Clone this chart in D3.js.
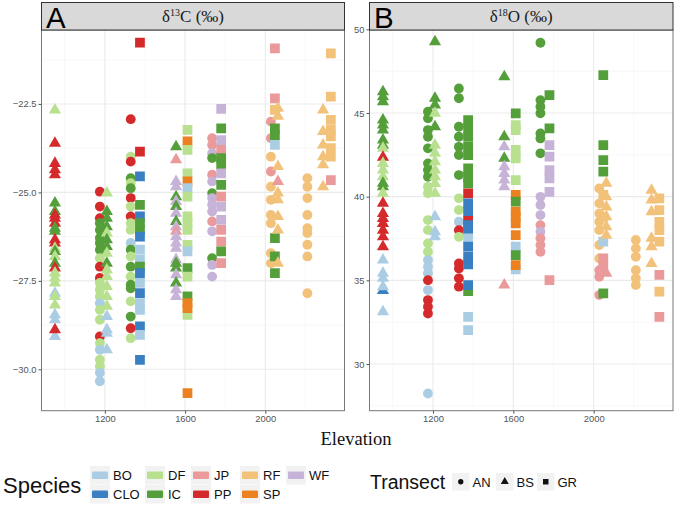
<!DOCTYPE html>
<html><head><meta charset="utf-8">
<script src="https://cdn.jsdelivr.net/npm/d3@7"></script>
<style>body{margin:0;background:#fff} svg{display:block}</style>
</head><body><svg id="c" width="677" height="509"></svg>
<script>
// ---------- data ----------
const species = ["BO","CLO","DF","IC","JP","PP","RF","SP","WF"];
const speciesColors = ["#abcde4","#3a7fc1","#b8e08f","#559f3b","#eb9a9c","#d42a2c","#f3c27a","#ec8122","#c7b3d8"];
const transectLevels = ["AN","BS","GR"];
// plotted (dodged) elevation of each column and its transect
const elevations = [951,1175,1210,1329,1375,1555,1612,1735,1780,2028,2048,2063,2210,2288,2327];
const columnTransect = ["BS","AN","BS","AN","GR","BS","GR","AN","GR","AN","GR","BS","AN","BS","GR"];
const elevationTicks = [1200,1600,2000];
const carbonTicks = [-30,-27.5,-25,-22.5];
const oxygenTicks = [30,35,40,45,50];

const carbonValues = [
 [["DF",-22.67],["PP",-23.61],["PP",-24.18],["PP",-24.36],["PP",-24.5],["IC",-25.3],["IC",-25.54],["PP",-25.64],["PP",-25.73],["PP",-25.87],["IC",-26.01],["IC",-26.1],["PP",-26.34],["PP",-26.43],["DF",-26.58],["IC",-26.67],["DF",-26.81],["IC",-27.0],["PP",-27.14],["DF",-27.28],["DF",-27.42],["DF",-27.56],["BO",-27.85],["DF",-27.94],["DF",-28.18],["BO",-28.46],["BO",-28.6],["BO",-29.07],["PP",-28.88]],
 [["PP",-24.98],["PP",-25.4],["PP",-25.73],["IC",-25.87],["IC",-26.06],["IC",-26.29],["IC",-26.43],["IC",-26.62],["DF",-26.86],["PP",-27.1],["PP",-27.42],["DF",-27.56],["DF",-27.75],["DF",-27.94],["BO",-28.13],["DF",-28.32],["DF",-28.6],["PP",-29.07],["DF",-29.26],["BO",-29.45],["DF",-29.73],["DF",-29.92],["BO",-30.1],["BO",-30.34]],
 [["DF",-25.02],["IC",-25.54],["IC",-25.73],["IC",-25.97],["DF",-26.15],["IC",-26.34],["IC",-26.53],["DF",-26.72],["IC",-27.0],["DF",-27.19],["DF",-27.38],["DF",-27.66],["DF",-27.94],["DF",-28.22],["BO",-28.51],["BO",-28.88],["BO",-28.98],["BO",-29.45]],
 [["PP",-22.93],["DF",-23.99],["PP",-24.13],["IC",-24.6],["DF",-24.74],["IC",-24.88],["PP",-25.16],["DF",-25.4],["PP",-25.68],["DF",-25.87],["DF",-26.06],["BO",-26.43],["IC",-26.62],["DF",-26.81],["IC",-27.1],["DF",-27.38],["IC",-27.61],["IC",-27.71],["DF",-28.08],["IC",-28.51],["PP",-28.84],["DF",-29.12]],
 [["PP",-20.77],["PP",-23.85],["CLO",-24.55],["IC",-25.35],["CLO",-25.68],["IC",-25.87],["IC",-26.06],["CLO",-26.25],["BO",-26.62],["BO",-26.9],["IC",-27.1],["CLO",-27.28],["BO",-27.56],["CLO",-27.85],["BO",-28.13],["BO",-28.32],["CLO",-28.79],["BO",-29.03],["CLO",-29.73]],
 [["IC",-23.71],["JP",-24.08],["WF",-24.69],["WF",-24.84],["IC",-25.12],["WF",-25.26],["IC",-25.4],["WF",-25.59],["IC",-25.82],["WF",-25.97],["JP",-26.1],["WF",-26.25],["WF",-26.43],["WF",-26.58],["WF",-26.9],["IC",-27.0],["IC",-27.14],["WF",-27.33],["IC",-27.56],["WF",-27.75],["WF",-27.94]],
 [["DF",-23.23],["SP",-23.56],["DF",-23.8],["DF",-24.46],["SP",-24.69],["BO",-24.88],["DF",-25.12],["DF",-25.68],["DF",-25.87],["DF",-26.06],["DF",-26.48],["BO",-26.67],["IC",-27.14],["DF",-27.38],["DF",-28.46],["IC",-27.94],["SP",-28.13],["SP",-28.27],["SP",-30.67]],
 [["JP",-23.47],["JP",-23.66],["WF",-23.89],["IC",-24.03],["JP",-24.5],["WF",-24.69],["IC",-25.02],["WF",-25.16],["WF",-25.35],["WF",-25.54],["JP",-25.82],["WF",-26.1],["IC",-26.86],["WF",-27.05],["WF",-27.38]],
 [["WF",-22.64],["IC",-23.19],["WF",-23.52],["JP",-23.8],["IC",-24.03],["IC",-24.22],["WF",-24.46],["IC",-24.79],["JP",-25.12],["WF",-25.4],["WF",-25.78],["JP",-26.06],["JP",-26.39],["IC",-26.67],["JP",-27.0]],
 [["JP",-23.0],["JP",-23.47],["RF",-23.99],["JP",-24.41],["RF",-24.84],["RF",-25.21],["RF",-25.64],["RF",-25.87],["RF",-26.72],["RF",-27.0]],
 [["JP",-20.93],["JP",-22.34],["RF",-22.67],["BO",-23.66],["IC",-23.19],["IC",-23.38],["IC",-26.29],["IC",-26.81],["IC",-27.28]],
 [["RF",-22.62],["RF",-22.85],["RF",-24.27],["JP",-24.69],["RF",-25.02],["RF",-25.21],["RF",-25.68],["RF",-26.06],["RF",-27.0]],
 [["RF",-24.6],["RF",-24.84],["RF",-25.16],["RF",-25.64],["RF",-26.01],["RF",-26.15],["RF",-26.48],["RF",-26.81],["RF",-27.85]],
 [["RF",-22.67],["RF",-23.28],["RF",-23.66],["RF",-23.99],["RF",-24.22],["RF",-24.84]],
 [["RF",-21.07],["RF",-22.29],["RF",-22.95],["RF",-23.23],["RF",-23.42],["RF",-23.75],["RF",-23.99],["JP",-24.65]]
];

const oxygenValues = [
 [["IC",46.27],["IC",45.97],["IC",45.67],["IC",44.58],["IC",44.28],["IC",43.98],["IC",43.38],["IC",43.08],["DF",42.89],["PP",42.35],["DF",41.99],["DF",41.59],["DF",41.19],["IC",40.8],["IC",40.6],["DF",40.2],["PP",39.6],["PP",39.0],["PP",38.7],["PP",38.4],["PP",38.0],["PP",37.6],["PP",37.01],["BO",36.21],["BO",35.42],["BO",35.12],["CLO",34.4],["BO",34.62],["BO",33.12]],
 [["IC",45.08],["IC",44.68],["IC",43.98],["IC",43.58],["IC",42.89],["IC",41.99],["IC",41.59],["IC",41.19],["DF",40.59],["DF",40.2],["DF",38.6],["DF",38.0],["DF",37.21],["DF",36.71],["BO",36.21],["BO",35.81],["BO",35.42],["PP",35.01],["BO",34.42],["PP",33.82],["PP",33.42],["PP",33.02],["BO",28.24]],
 [["IC",49.26],["IC",45.88],["IC",45.48],["DF",44.98],["IC",44.18],["DF",43.08],["DF",42.59],["DF",42.09],["DF",41.59],["DF",41.19],["DF",40.79],["DF",40.2],["BO",38.8],["BO",37.9],["BO",37.6]],
 [["IC",46.47],["IC",45.88],["IC",44.18],["IC",43.58],["IC",42.98],["IC",42.49],["IC",41.29],["DF",39.9],["DF",39.2],["BO",38.5],["PP",38.0],["DF",37.6],["PP",36.01],["PP",35.71],["PP",35.12],["PP",34.62]],
 [["IC",44.58],["IC",44.08],["IC",43.58],["IC",42.98],["IC",42.49],["IC",41.69],["IC",41.19],["IC",40.79],["PP",40.2],["CLO",39.6],["CLO",39.1],["PP",38.55],["CLO",38.3],["CLO",38.0],["BO",37.51],["CLO",37.01],["CLO",36.41],["CLO",35.95],["IC",34.35],["CLO",34.72],["BO",32.82],["BO",32.02]],
 [["IC",47.17],["IC",43.58],["WF",42.98],["IC",42.29],["WF",41.79],["WF",41.39],["WF",40.99],["WF",40.59],["JP",34.72]],
 [["IC",44.98],["DF",44.28],["DF",43.98],["DF",42.79],["DF",42.29],["DF",40.99],["SP",40.1],["IC",39.7],["SP",39.1],["SP",38.8],["SP",38.4],["SP",37.7],["BO",37.01],["IC",36.51],["BO",35.65],["SP",35.91]],
 [["IC",49.2],["IC",45.77],["IC",45.37],["IC",44.98],["IC",43.78],["IC",43.48],["IC",42.59],["WF",39.99],["WF",39.5],["WF",38.9],["JP",38.3],["WF",37.9],["JP",37.51],["JP",37.11],["JP",36.71]],
 [["IC",46.07],["IC",44.08],["WF",43.08],["WF",42.39],["WF",41.59],["WF",41.09],["WF",40.29],["JP",35.01]],
 [["RF",40.49],["RF",39.6],["RF",39.0],["RF",38.5],["RF",38.0],["RF",37.11],["RF",36.31],["JP",35.61],["JP",35.21],["JP",34.12]],
 [["IC",47.27],["IC",43.08],["IC",42.19],["IC",41.49],["RF",40.1],["RF",38.8],["BO",37.31],["JP",36.31],["JP",35.81],["IC",34.22]],
 [["RF",40.8],["RF",39.99],["RF",39.39],["RF",38.8],["RF",38.2],["RF",37.7],["JP",35.42]],
 [["RF",37.41],["RF",36.91],["RF",36.41],["RF",35.61],["RF",35.12],["RF",34.72]],
 [["RF",40.39],["RF",39.8],["RF",39.1],["RF",37.51],["RF",37.01],["RF",36.01]],
 [["RF",39.9],["RF",39.2],["RF",38.5],["RF",38.0],["RF",37.31],["JP",35.32],["RF",34.32],["JP",32.82]]
];

// ---------- drawing ----------
const svg = d3.select("#c");
const color = d3.scaleOrdinal(species, speciesColors);
const shapeType = d3.scaleOrdinal(transectLevels, [d3.symbolCircle, d3.symbolTriangle, d3.symbolSquare]);
const shapeSize = d3.scaleOrdinal(transectLevels, [76, 64, 95]);
const sans = "'Liberation Sans', Arial, sans-serif";
const serif = "'Liberation Serif', 'DejaVu Serif', serif";

const plotTop = 30, plotBottom = 410.7;

function panel(opts){
  const {x0, x1, yDomain, ticks, minor, fmt, values, letter, label, sup, rest} = opts;
  const x = d3.scaleLinear().domain([884, 2395]).range([x0, x1]);
  const y = d3.scaleLinear().domain(yDomain).range([plotBottom, plotTop]);
  const g = svg.append("g");
  const grid = g.append("g");
  grid.selectAll(".mx").data([1000,1400,1800,2200]).join("line")
    .attr("x1", d=>x(d)).attr("x2", d=>x(d)).attr("y1", plotTop).attr("y2", plotBottom)
    .attr("stroke", "#f3f3f3").attr("stroke-width", 0.6);
  grid.selectAll(".my").data(minor).join("line")
    .attr("x1", x0).attr("x2", x1).attr("y1", d=>y(d)).attr("y2", d=>y(d))
    .attr("stroke", "#f3f3f3").attr("stroke-width", 0.6);
  grid.selectAll(".Mx").data(elevationTicks).join("line")
    .attr("x1", d=>x(d)).attr("x2", d=>x(d)).attr("y1", plotTop).attr("y2", plotBottom)
    .attr("stroke", "#ebebeb").attr("stroke-width", 1.1);
  grid.selectAll(".My").data(ticks).join("line")
    .attr("x1", x0).attr("x2", x1).attr("y1", d=>y(d)).attr("y2", d=>y(d))
    .attr("stroke", "#ebebeb").attr("stroke-width", 1.1);

  const pts = [];
  values.forEach((col, i) => col.forEach(([sp, v]) => pts.push({e: elevations[i], t: columnTransect[i], sp, v})));
  const clipId = "clip" + letter;
  svg.append("clipPath").attr("id", clipId).append("rect")
    .attr("x", x0).attr("y", plotTop).attr("width", x1 - x0).attr("height", plotBottom - plotTop);
  g.append("g").attr("clip-path", `url(#${clipId})`).selectAll("path").data(pts).join("path")
    .attr("transform", d => `translate(${x(d.e)},${y(d.v)})`)
    .attr("d", d => d3.symbol().type(shapeType(d.t)).size(shapeSize(d.t))())
    .attr("fill", d => color(d.sp));

  g.append("rect").attr("x", x0).attr("y", plotTop).attr("width", x1 - x0).attr("height", plotBottom - plotTop)
    .attr("fill", "none").attr("stroke", "#777").attr("stroke-width", 1);

  const ax = g.append("g").attr("transform", `translate(0,${plotBottom})`)
    .call(d3.axisBottom(x).tickValues(elevationTicks).tickSize(3).tickPadding(2).tickFormat(d3.format("d")));
  const ay = g.append("g").attr("transform", `translate(${x0},0)`)
    .call(d3.axisLeft(y).tickValues(ticks).tickSize(3).tickPadding(2).tickFormat(fmt));
  [ax, ay].forEach(a => {
    a.select(".domain").remove();
    a.selectAll("line").attr("stroke", "#555");
    a.selectAll("text").attr("fill", "#555").attr("font-family", sans).attr("font-size", 9.4);
  });

  g.append("rect").attr("x", x0).attr("y", 2.5).attr("width", x1 - x0).attr("height", plotTop - 2.5)
    .attr("fill", "#d9d9d9").attr("stroke", "#333").attr("stroke-width", 1);
  const st = g.append("text").attr("x", (x0 + x1) / 2).attr("y", 22).attr("text-anchor", "middle")
    .attr("font-family", serif).attr("font-size", 17).attr("fill", "#1a1a1a");
  st.append("tspan").text(label);
  st.append("tspan").text(sup).attr("font-size", 10).attr("dy", -6);
  st.append("tspan").text(rest).attr("dy", 6);
  g.append("text").attr("x", x0 + 4.5).attr("y", 28.3).text(letter)
    .attr("font-family", sans).attr("font-size", 29.5).attr("fill", "#000");
}

panel({x0: 41.5, x1: 344.5, yDomain: [-31.17, -20.41], ticks: carbonTicks,
  minor: [-28.75, -26.25, -23.75, -21.25], fmt: d3.format(".1f"), values: carbonValues,
  letter: "A", label: "δ", sup: "13", rest: "C (‰)"});
panel({x0: 369.5, x1: 673, yDomain: [27.21, 49.96], ticks: oxygenTicks,
  minor: [27.5, 32.5, 37.5, 42.5, 47.5], fmt: d3.format("d"), values: oxygenValues,
  letter: "B", label: "δ", sup: "18", rest: "O (‰)"});

svg.append("text").attr("x", 356).attr("y", 445).attr("text-anchor", "middle")
  .attr("font-family", serif).attr("font-size", 18.5).attr("fill", "#111").text("Elevation");

const lg = svg.append("g");
lg.append("text").attr("x", 3).attr("y", 492.5).text("Species")
  .attr("font-family", sans).attr("font-size", 22).attr("fill", "#111");
const colX = [90, 145, 191, 240, 286];
const rowY = [466, 485];
species.forEach((s, i) => {
  const c = Math.floor(i / 2), r = i % 2;
  const kx = colX[c], ky = rowY[r];
  lg.append("rect").attr("x", kx).attr("y", ky).attr("width", 20).attr("height", 18.5).attr("fill", "#f2f2f2");
  lg.append("rect").attr("x", kx + 2).attr("y", ky + 5.5).attr("width", 16).attr("height", 7.5).attr("rx", 1)
    .attr("fill", color(s));
  lg.append("text").attr("x", kx + 23).attr("y", ky + 13.6).text(s)
    .attr("font-family", sans).attr("font-size", 13).attr("fill", "#111");
});

const tg = svg.append("g");
tg.append("text").attr("x", 370).attr("y", 488.5).text("Transect")
  .attr("font-family", sans).attr("font-size", 19.5).attr("fill", "#111");
const tX = [452, 496, 537];
const tSize = d3.scaleOrdinal(transectLevels, [22, 28, 30]);
transectLevels.forEach((t, i) => {
  tg.append("rect").attr("x", tX[i]).attr("y", 473).attr("width", 17.5).attr("height", 17.5).attr("fill", "#f2f2f2");
  tg.append("path").attr("transform", `translate(${tX[i] + 8.75},${481.75})`)
    .attr("d", d3.symbol().type(shapeType(t)).size(tSize(t))()).attr("fill", "#111");
  tg.append("text").attr("x", tX[i] + 20.5).attr("y", 486.5).text(t)
    .attr("font-family", sans).attr("font-size", 13).attr("fill", "#111");
});
</script>
</body></html>
